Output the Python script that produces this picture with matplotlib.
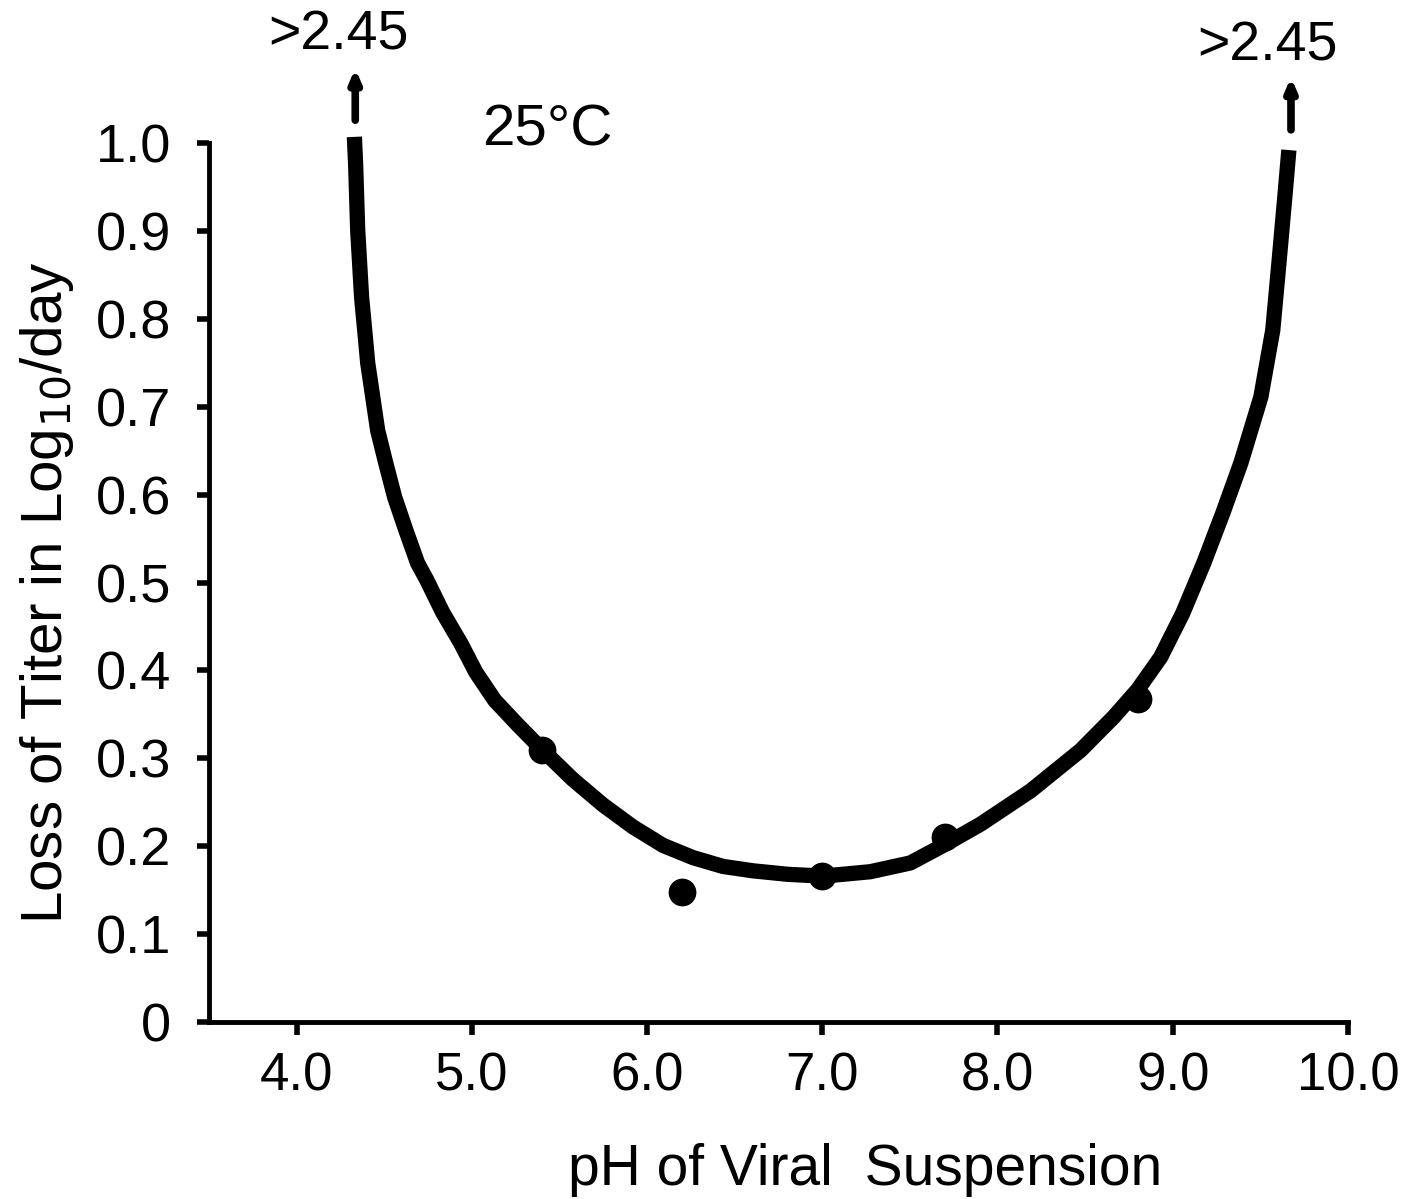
import numpy as np
import matplotlib
matplotlib.use("Agg")
import matplotlib.pyplot as plt

plt.rcParams["font.family"] = ["Liberation Sans", "DejaVu Sans"]

# measured points
ph_pts = [5.4, 6.2, 7.0, 7.7, 8.8]
loss_pts = [0.31, 0.148, 0.166, 0.21, 0.368]

# fitted curve
curve_ph = [4.33, 4.337, 4.349, 4.371, 4.389, 4.406, 4.463, 4.509, 4.560, 4.623, 4.691, 4.743,
            4.834, 4.937, 5.023, 5.131, 5.263, 5.406, 5.577, 5.749, 5.920, 6.091, 6.263, 6.434,
            6.606, 6.806, 7.006, 7.274, 7.503, 7.691, 7.903, 8.189, 8.474, 8.663, 8.80, 8.931,
            9.057, 9.177, 9.286, 9.389, 9.503, 9.571, 9.606, 9.640, 9.663]
curve_loss = [1.007, 0.977, 0.901, 0.825, 0.787, 0.750, 0.673, 0.636, 0.597, 0.560, 0.522, 0.503,
              0.466, 0.431, 0.398, 0.366, 0.338, 0.309, 0.276, 0.247, 0.222, 0.201, 0.187, 0.177,
              0.172, 0.168, 0.166, 0.171, 0.181, 0.201, 0.225, 0.263, 0.309, 0.347, 0.378, 0.415,
              0.465, 0.522, 0.579, 0.636, 0.711, 0.787, 0.863, 0.939, 0.992]

xticks = [4.0, 5.0, 6.0, 7.0, 8.0, 9.0, 10.0]
xlabels = ["4.0", "5.0", "6.0", "7.0", "8.0", "9.0", "10.0"]
yticks = [0, 0.1, 0.2, 0.3, 0.4, 0.5, 0.6, 0.7, 0.8, 0.9, 1.0]
ylabels = ["0", "0.1", "0.2", "0.3", "0.4", "0.5", "0.6", "0.7", "0.8", "0.9", "1.0"]

fig = plt.figure(figsize=(14.06, 11.99), dpi=100)
ax = fig.add_axes([0.1486, 0.1476, 0.8101, 0.7331])

ax.plot(curve_ph, curve_loss, color="black", lw=11, solid_capstyle="butt",
        solid_joinstyle="round", clip_on=False)
ax.plot(ph_pts, loss_pts, "o", color="black", ms=19, clip_on=False)

# arrows for the off-scale values
arrow = dict(arrowstyle="-|>,head_length=0.7,head_width=0.3", color="black", lw=5.5,
             shrinkA=0, shrinkB=0)
ax.annotate("", xy=(4.335, 1.085), xytext=(4.335, 1.026), arrowprops=arrow,
            annotation_clip=False)
ax.annotate("", xy=(9.675, 1.075), xytext=(9.675, 1.015), arrowprops=arrow,
            annotation_clip=False)
ax.text(4.24, 1.122, ">2.45", fontsize=40, ha="center", va="center", clip_on=False)
ax.text(9.54, 1.110, ">2.45", fontsize=40, ha="center", va="center", clip_on=False)
ax.text(5.43, 1.014, "25\u00b0C", fontsize=42, ha="center", va="center")

ax.set_xlim(3.5, 10.0)
ax.set_ylim(0, 1.0)
ax.set_xticks(xticks)
ax.set_xticklabels(xlabels)
ax.set_yticks(yticks)
ax.set_yticklabels(ylabels)
ax.tick_params(axis="x", labelsize=38, length=9, width=4, pad=12, direction="out")
ax.tick_params(axis="y", labelsize=39, length=9, width=4, pad=18, direction="out")

for s in ["top", "right"]:
    ax.spines[s].set_visible(False)
for s in ["left", "bottom"]:
    ax.spines[s].set_linewidth(3.5)

ax.set_xlabel("pH of Viral  Suspension", fontsize=41)
ax.set_ylabel("Loss of Titer in Log$_{10}$/day", fontsize=42)
ax.xaxis.set_label_coords(0.576, -0.138)
ax.yaxis.set_label_coords(-0.117, 0.489)

fig.savefig("out.png", dpi=100)
